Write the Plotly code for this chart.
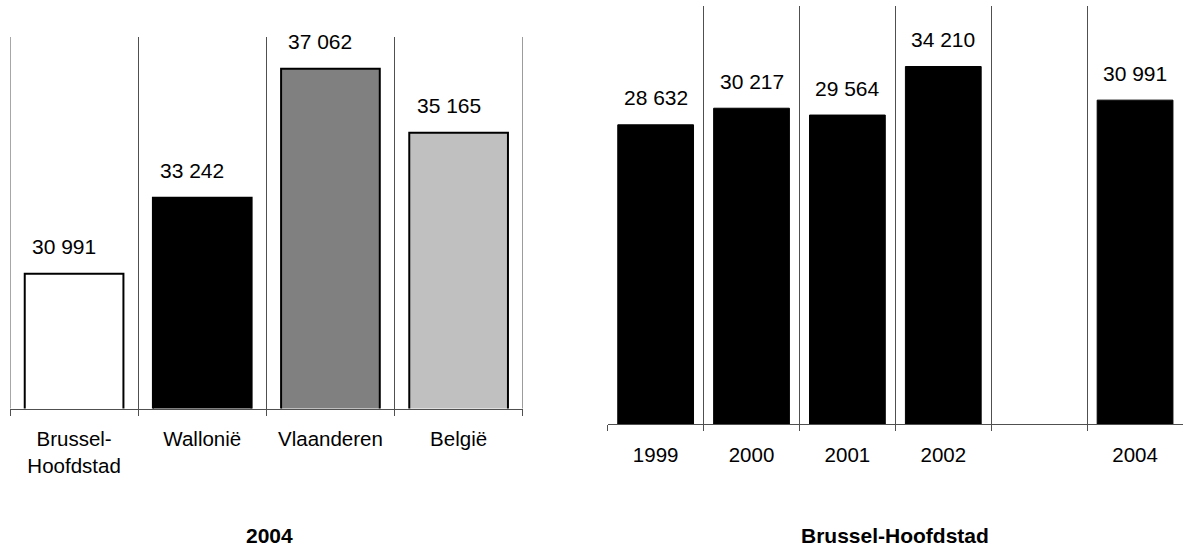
import plotly.graph_objects as go

# Income per inhabitant, 2004, by region
regions = ["Brussel-Hoofdstad", "Wallonië", "Vlaanderen", "België"]
region_labels = ["Brussel-<br>Hoofdstad", "Wallonië", "Vlaanderen", "België"]
region_values = [30991, 33242, 37062, 35165]
region_colors = ["#FFFFFF", "#000000", "#808080", "#C0C0C0"]

# Brussels-Capital over time (no figure for 2003)
years = ["1999", "2000", "2001", "2002", "2003", "2004"]
year_labels = ["1999", "2000", "2001", "2002", "", "2004"]
year_values = [28632, 30217, 29564, 34210, None, 30991]

FONT = "Liberation Sans, Arial, sans-serif"
GRID = "#505050"
W, H = 1183, 547


def fmt(v):
    return f"{v:,}".replace(",", " ")


fig = go.Figure()

fig.add_trace(go.Bar(
    x=regions, y=region_values, width=0.77,
    marker=dict(color=region_colors, line=dict(color="#000000", width=2)),
    xaxis="x", yaxis="y", showlegend=False, hoverinfo="skip",
))
fig.add_trace(go.Bar(
    x=years, y=year_values, width=0.79,
    marker=dict(color="#000000", line=dict(color="#000000", width=1)),
    xaxis="x2", yaxis="y2", showlegend=False, hoverinfo="skip",
))

annotations = []
# value labels; category axes are addressed by category index
for i, v in enumerate(region_values):
    annotations.append(dict(
        x=i, y=v, xref="x", yref="y", text=fmt(v), showarrow=False,
        yanchor="middle", yshift=27, xshift=-10,
        font=dict(family=FONT, size=21, color="#000000"),
    ))
for i, v in enumerate(year_values):
    if v is None:
        continue
    annotations.append(dict(
        x=i, y=v, xref="x2", yref="y2", text=fmt(v), showarrow=False,
        yanchor="middle", yshift=27,
        font=dict(family=FONT, size=21, color="#000000"),
    ))

# Panel titles below each chart
annotations.append(dict(
    x=269.7 / W, y=1 - 535 / H, xref="paper", yref="paper", text="<b>2004</b>",
    showarrow=False, xanchor="center", yanchor="middle",
    font=dict(family=FONT, size=21, color="#000000"),
))
annotations.append(dict(
    x=895 / W, y=1 - 535 / H, xref="paper", yref="paper",
    text="<b>Brussel-Hoofdstad</b>",
    showarrow=False, xanchor="center", yanchor="middle",
    font=dict(family=FONT, size=21, color="#000000"),
))

xaxis_common = dict(
    type="category", tickson="boundaries", ticks="outside", ticklen=6,
    tickcolor=GRID, tickwidth=1, showgrid=True, gridcolor=GRID, gridwidth=1,
    showline=True, linecolor=GRID, linewidth=1,
    tickfont=dict(family=FONT, size=20.5, color="#000000"),
    ticklabelstandoff=12,
    tickmode="array", fixedrange=True, automargin=False,
)
yaxis_common = dict(
    showgrid=False, showticklabels=False, zeroline=False, showline=False,
    ticks="", fixedrange=True, automargin=False,
)

# outer category boundaries of the left panel
shapes = [
    dict(type="line", xref="x", yref="y domain", x0=xb, x1=xb, y0=0, y1=1,
         line=dict(color=GRID, width=1), layer="below")
    for xb in (-0.5, len(regions) - 0.5)
]

fig.update_layout(
    width=W, height=H,
    margin=dict(l=0, r=0, t=0, b=0, pad=0),
    paper_bgcolor="#FFFFFF", plot_bgcolor="#FFFFFF",
    xaxis=dict(domain=[10 / W, 522.7 / W], anchor="y",
               range=[-0.5, len(regions) - 0.5],
               tickvals=list(range(len(regions))), ticktext=region_labels,
               **xaxis_common),
    yaxis=dict(domain=[1 - 408.5 / H, 1 - 37 / H], anchor="x",
               range=[27000, 38000], **yaxis_common),
    xaxis2=dict(domain=[607.7 / W, 1.0], anchor="y2",
                range=[-0.5, len(years) - 0.5],
                tickvals=list(range(len(years))), ticktext=year_labels,
                **xaxis_common),
    yaxis2=dict(domain=[1 - 424 / H, 1 - 6 / H], anchor="x2",
                range=[0, 40000], **yaxis_common),
    annotations=annotations,
    shapes=shapes,
)

fig.write_html("out.html")
